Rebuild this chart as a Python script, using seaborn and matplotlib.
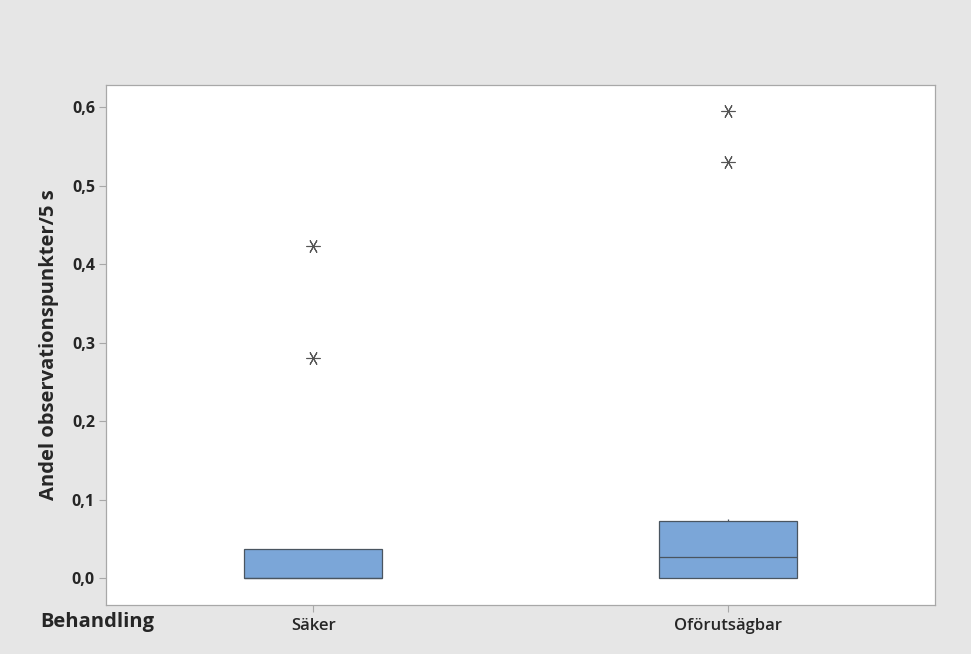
import numpy as np
import pandas as pd
import matplotlib
matplotlib.use("Agg")
import matplotlib.pyplot as plt
from matplotlib.ticker import FuncFormatter
import seaborn as sns

saker = [0, 0, 0, 0, 0, 0, 0.037, 0.037, 0.28, 0.423]
oforutsagbar = [0, 0, 0, 0, 0.01, 0.027, 0.027, 0.05, 0.072, 0.075, 0.53, 0.595]
categories = ["Säker", "Oförutsägbar"]
yticks = [0.0, 0.1, 0.2, 0.3, 0.4, 0.5, 0.6]

df = pd.DataFrame({
    "Behandling": [categories[0]] * len(saker) + [categories[1]] * len(oforutsagbar),
    "Andel": saker + oforutsagbar,
})

sns.set_style("white")
plt.rcParams["font.family"] = ["Open Sans", "DejaVu Sans"]

bg = "#e6e6e6"
fig = plt.figure(figsize=(9.71, 6.54), dpi=100, facecolor=bg)
ax = fig.add_axes([0.1092, 0.0749, 0.8538, 0.7951])
ax.set_facecolor("white")

sns.boxplot(data=df, x="Behandling", y="Andel", order=categories, ax=ax,
            width=0.333, color="#7ba6d8", saturation=1, showcaps=False,
            linewidth=0.9, whis=1.5,
            boxprops=dict(edgecolor="#4a5560"),
            medianprops=dict(color="#4a5560", linewidth=0.9),
            whiskerprops=dict(color="#4a5560", linewidth=0.9),
            flierprops=dict(marker=(6, 2, 90), markersize=10,
                            markeredgecolor="#555555", markeredgewidth=0.8,
                            markerfacecolor="none"))

ax.set_xlim(-0.5, 1.5)
ax.set_ylim(-0.034, 0.628)
ax.set_yticks(yticks)
ax.yaxis.set_major_formatter(FuncFormatter(lambda v, p: f"{v:.1f}".replace(".", ",")))

for s in ax.spines.values():
    s.set_visible(True)
    s.set_color("#a8a8a8")
    s.set_linewidth(0.9)

ax.tick_params(axis="both", which="major", direction="out", length=5,
               color="#a8a8a8", width=0.8, left=True, bottom=True)
ax.tick_params(axis="y", labelsize=11.5, pad=3)
ax.tick_params(axis="x", labelsize=12, pad=4)
for lab in ax.get_yticklabels():
    lab.set_fontweight("bold")
for lab in ax.get_xticklabels():
    lab.set_fontweight("semibold")

ax.set_xlabel("")
ax.set_ylabel("Andel observationspunkter/5 s", fontsize=14.5, fontweight="bold", labelpad=9)
fig.text(0.041, 0.049, "Behandling", fontsize=14.5, fontweight="bold", va="center", ha="left")

fig.savefig("out.png", dpi=100, facecolor=bg)
